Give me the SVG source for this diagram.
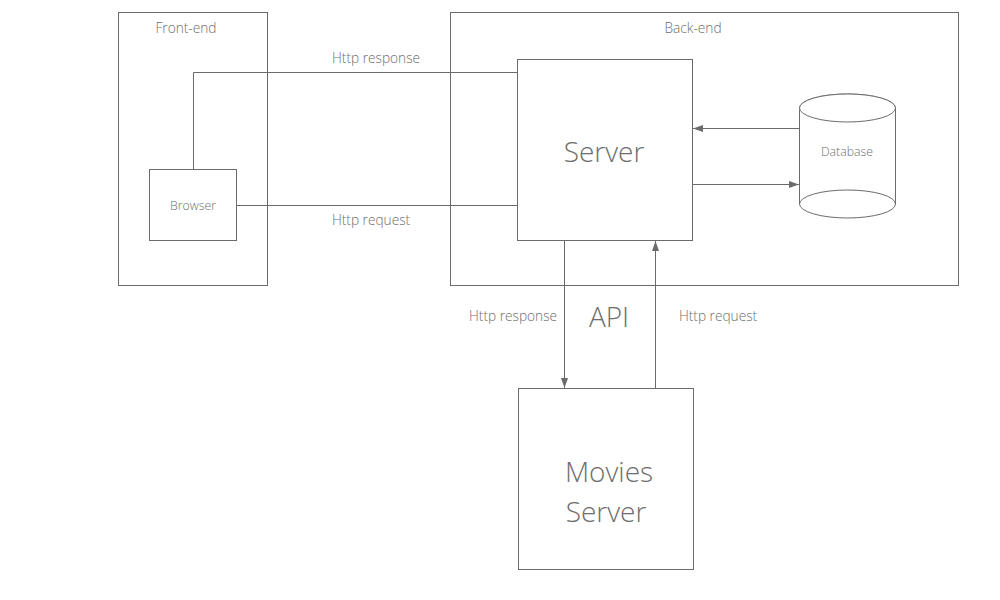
<svg xmlns="http://www.w3.org/2000/svg" width="1000" height="600" viewBox="0 0 1000 600">
<defs>
<marker id="arr" viewBox="0 0 10 10" refX="10" refY="5" markerWidth="10" markerHeight="10" markerUnits="userSpaceOnUse" orient="auto">
<path d="M0,1.5 L10,5 L0,8.5 z" fill="#6b6b6b"/>
</marker>
<style>
.box{fill:#fff;stroke:#6b6b6b;stroke-width:1}
.grp{fill:none;stroke:#6b6b6b;stroke-width:1}
.ln{fill:none;stroke:#6b6b6b;stroke-width:1}
text{font-family:"Open Sans","Noto Sans","Liberation Sans",sans-serif;font-weight:300;fill:#6e6e6e;text-anchor:middle}
.s{font-size:13.7px}
.xs{font-size:12.3px}
.l{font-size:28px}
</style>
</defs>
<rect width="1000" height="600" fill="#fff"/>
<g id="frontend">
<rect class="grp" x="118.5" y="12.5" width="149" height="273"/>
<text class="s" x="186" y="33">Front-end</text>
</g>
<g id="backend">
<rect class="grp" x="450.5" y="12.5" width="508" height="273"/>
<text class="s" x="693" y="33">Back-end</text>
</g>
<g id="connectors">
<polyline class="ln" points="193.5,169 193.5,72.5 517,72.5"/>
<line class="ln" x1="236" y1="205.5" x2="517" y2="205.5"/>
<line class="ln" x1="799" y1="128.5" x2="693" y2="128.5" marker-end="url(#arr)"/>
<line class="ln" x1="693" y1="184.5" x2="799" y2="184.5" marker-end="url(#arr)"/>
<line class="ln" x1="564.5" y1="240" x2="564.5" y2="388" marker-end="url(#arr)"/>
<line class="ln" x1="655.5" y1="388" x2="655.5" y2="241" marker-end="url(#arr)"/>
<text class="s" x="376" y="63">Http response</text>
<text class="s" x="371" y="225">Http request</text>
<text class="s" x="513" y="321">Http response</text>
<text class="s" x="718" y="321">Http request</text>
<text class="l" x="609" y="327">API</text>
</g>
<g id="browser">
<rect class="box" x="149.5" y="169.5" width="87" height="71"/>
<text class="xs" x="193" y="210">Browser</text>
</g>
<g id="server">
<rect class="box" x="517.5" y="59.5" width="175" height="181"/>
<text class="l" x="604" y="162">Server</text>
</g>
<g id="database">
<path class="box" d="M799.5,108 L799.5,204 A48,14 0 0 0 895.5,204 L895.5,108 A48,14 0 0 0 799.5,108 Z"/>
<ellipse class="box" cx="847.5" cy="108" rx="48" ry="14"/>
<path class="ln" d="M799.5,204 A48,14 0 0 1 895.5,204"/>
<text class="xs" x="847" y="156">Database</text>
</g>
<g id="movies">
<rect class="box" x="518.5" y="388.5" width="175" height="181"/>
<text class="l" x="609" y="482">Movies</text>
<text class="l" x="606" y="522">Server</text>
</g>
</svg>
